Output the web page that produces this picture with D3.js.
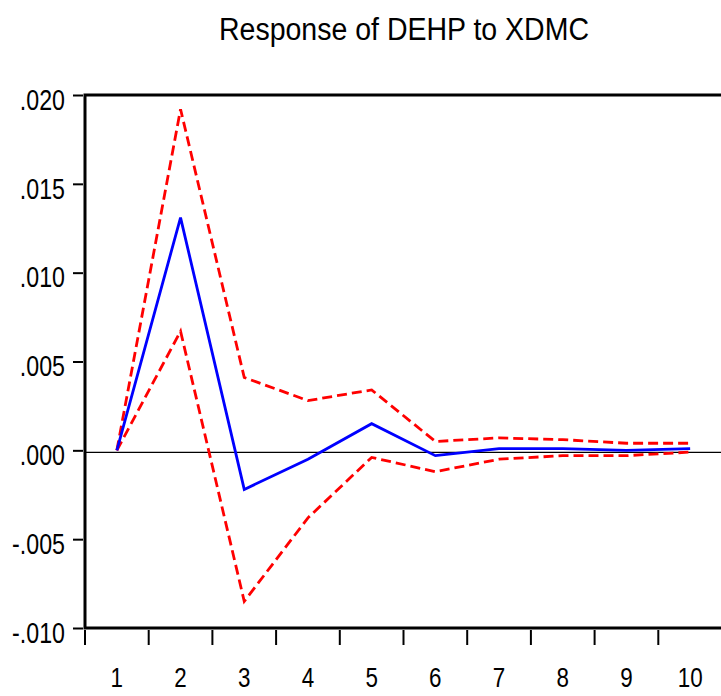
<!DOCTYPE html>
<html lang="en">
<head>
  <meta charset="UTF-8">
  <title>Response of DEHP to XDMC</title>
  <script src="https://d3js.org/d3.v7.min.js"></script>
  <style>
    body {
      margin: 0;
      background-color: #ffffff;
      font-family: "Liberation Sans", Arial, sans-serif;
    }
  </style>
</head>
<body>

<div id="viz"></div>

<script>
// Periods and responses
var periods = ["1", "2", "3", "4", "5", "6", "7", "8", "9", "10"];
var response = [0.0000, 0.0131, -0.0022, -0.0005, 0.0015, -0.0003, 0.0001, 0.0001, 0.0000, 0.0001];
var upperBand = [0.0000, 0.0192, 0.0041, 0.0028, 0.0034, 0.0005, 0.0007, 0.0006, 0.0004, 0.0004];
var lowerBand = [0.0000, 0.0067, -0.0085, -0.0038, -0.0004, -0.0012, -0.0005, -0.0003, -0.0003, -0.0001];
var yTicks = [-0.010, -0.005, 0.000, 0.005, 0.010, 0.015, 0.020];

// SVG setup
var svgWidth = 721, svgHeight = 696;
var svg = d3.select("#viz")
    .append("svg")
    .attr("width", svgWidth)
    .attr("height", svgHeight);

var plotLeft = 85, plotRight = 722, plotTop = 95, plotBottom = 628;

var x = d3.scaleBand()
    .domain(periods)
    .range([plotLeft, plotRight]);

var y = d3.scaleLinear()
    .domain([-0.010, 0.020])
    .range([plotBottom, plotTop]);

// narrow the glyphs a bit, the original font is condensed
function condense(sel, k) {
  sel.each(function() {
    var w = this.getComputedTextLength();
    d3.select(this)
      .attr("textLength", w * k)
      .attr("lengthAdjust", "spacingAndGlyphs");
  });
}

// Title
svg.append("text")
    .attr("x", 404)
    .attr("y", 40)
    .attr("text-anchor", "middle")
    .attr("textLength", 370)
    .attr("lengthAdjust", "spacingAndGlyphs")
    .style("font-size", "31px")
    .style("fill", "#000")
    .text("Response of DEHP to XDMC");

// Zero line
svg.append("line")
    .attr("x1", plotLeft)
    .attr("x2", plotRight)
    .attr("y1", y(0) + 2)
    .attr("y2", y(0) + 2)
    .attr("stroke", "#000")
    .attr("stroke-width", 1.2);

// Lines
var line = d3.line()
    .x((d, i) => x(periods[i]) + x.bandwidth() / 2)
    .y(d => y(d));

svg.append("path")
    .datum(upperBand)
    .attr("d", line)
    .attr("fill", "none")
    .attr("stroke", "#ff0000")
    .attr("stroke-width", 2.8)
    .attr("stroke-dasharray", "10,5");

svg.append("path")
    .datum(lowerBand)
    .attr("d", line)
    .attr("fill", "none")
    .attr("stroke", "#ff0000")
    .attr("stroke-width", 2.8)
    .attr("stroke-dasharray", "10,5");

svg.append("path")
    .datum(response)
    .attr("d", line)
    .attr("fill", "none")
    .attr("stroke", "#0000ff")
    .attr("stroke-width", 2.8);

// Frame (top, left, bottom)
svg.append("path")
    .attr("d", "M" + plotRight + "," + plotTop + "H" + plotLeft + "V" + plotBottom + "H" + plotRight)
    .attr("fill", "none")
    .attr("stroke", "#000")
    .attr("stroke-width", 3);

// Y axis
var yAxis = d3.axisLeft(y)
    .tickValues(yTicks)
    .tickSize(10)
    .tickPadding(8)
    .tickFormat(d => d3.format(".3f")(d).replace("0.", ".").replace("−", "-"));

var gy = svg.append("g")
    .attr("transform", "translate(" + (plotLeft - 2) + ",0)")
    .call(yAxis);
gy.select(".domain").remove();
gy.selectAll(".tick line").attr("stroke", "#000").attr("stroke-width", 2);
gy.selectAll(".tick text")
    .attr("y", 5)
    .style("font-family", "Liberation Sans, Arial, sans-serif")
    .style("font-size", "29px")
    .style("fill", "#000")
    .call(condense, 0.8);

// X axis: ticks at band boundaries, labels centred in bands
var gx = svg.append("g")
    .attr("transform", "translate(0," + (plotBottom + 2) + ")");

gx.selectAll("line")
    .data(periods)
    .enter()
    .append("line")
    .attr("x1", d => x(d))
    .attr("x2", d => x(d))
    .attr("y1", 0)
    .attr("y2", 15)
    .attr("stroke", "#000")
    .attr("stroke-width", 2);

gx.selectAll("text")
    .data(periods)
    .enter()
    .append("text")
    .attr("x", d => x(d) + x.bandwidth() / 2)
    .attr("y", 57)
    .attr("text-anchor", "middle")
    .style("font-size", "28px")
    .style("fill", "#000")
    .text(d => d)
    .call(condense, 0.8);
</script>

</body>
</html>
